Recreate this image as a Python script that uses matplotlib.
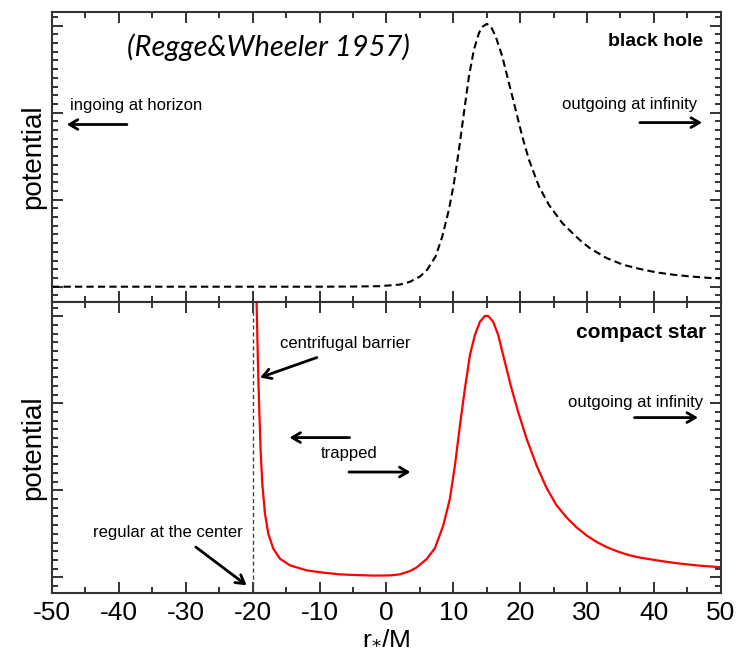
import matplotlib
matplotlib.use('Agg')
import matplotlib.pyplot as plt
from matplotlib.ticker import MultipleLocator, NullFormatter

# black hole (Regge-Wheeler) potential
bh_x = [-50, -40, -30, -20, -10, -5, -1, 2, 3.5, 5, 6.1, 7.36, 8.36, 9.35, 10.1,
        10.85, 11.59, 12.34, 13.09, 13.85, 14.35, 15.0, 15.6, 16.33, 17.32, 18.32,
        19.32, 20.31, 21.31, 22.8, 24.3, 26.3, 27.9, 29.1, 30.4, 32.9, 35.4, 37.9,
        40.4, 42.9, 45.4, 48.4, 50]
bh_v = [0, 0, 0, 0, 0, 0.0001, 0.0003, 0.0012, 0.0028, 0.0058, 0.0098, 0.0174,
        0.0289, 0.0443, 0.0596, 0.0788, 0.0999, 0.1209, 0.1363, 0.1459, 0.1493,
        0.1510, 0.1497, 0.1439, 0.1324, 0.1171, 0.1018, 0.0864, 0.073, 0.0577,
        0.0470, 0.0366, 0.0305, 0.0262, 0.0222, 0.0165, 0.0126, 0.0102, 0.0082,
        0.0069, 0.0059, 0.0050, 0.0048]

# compact star potential
cs_x = [-19.42, -19.31, -19.16, -19.01, -18.81, -18.56, -18.16, -17.66, -16.92,
        -15.92, -14.43, -11.93, -9.45, -6.95, -4.46, -1.97, 0.52, 2.0, 3.51, 4.5,
        6.02, 7.26, 8.51, 9.5, 10.25, 11.0, 11.74, 12.49, 13.23, 13.98, 14.73,
        15.22, 15.97, 16.72, 17.71, 18.71, 19.7, 20.95, 22.44, 23.93, 25.42, 26.92,
        28.4, 29.92, 31.4, 32.91, 34.6, 36.4, 38.1, 39.88, 41.9, 43.87, 46.86, 50]
cs_v = [0.1593, 0.1401, 0.1151, 0.096, 0.073, 0.0539, 0.0366, 0.0251, 0.0165,
        0.0107, 0.0069, 0.004, 0.0027, 0.0017, 0.0013, 0.001, 0.0011, 0.0017,
        0.0036, 0.0056, 0.0105, 0.0168, 0.0299, 0.0453, 0.0644, 0.0874, 0.1085,
        0.1277, 0.1392, 0.1468, 0.1502, 0.1502, 0.1468, 0.1392, 0.1238, 0.1085,
        0.095, 0.0798, 0.0644, 0.0515, 0.0415, 0.0345, 0.0288, 0.0241, 0.0204,
        0.0174, 0.0148, 0.0126, 0.0112, 0.0101, 0.0089, 0.0079, 0.0067, 0.0058]

sans = ['Liberation Sans', 'DejaVu Sans']
plt.rcParams['font.family'] = sans
plt.rcParams['axes.unicode_minus'] = False

fig, (ax1, ax2) = plt.subplots(2, 1, sharex=True, figsize=(7.37, 6.52), dpi=100)
fig.subplots_adjust(left=0.0706, right=0.978, top=0.982, bottom=0.0905, hspace=0)

ax1.plot(bh_x, bh_v, color='black', lw=1.5, dashes=(3.5, 2))
ax2.plot(cs_x, cs_v, color='red', lw=1.6)
ax2.axvline(-20, color='#444444', lw=1, dashes=(3, 2))

for ax in (ax1, ax2):
    ax.set_xlim(-50, 50)
    ax.set_ylim(-0.009, 0.158)
    ax.xaxis.set_major_locator(MultipleLocator(10))
    ax.xaxis.set_minor_locator(MultipleLocator(5))
    ax.yaxis.set_major_locator(MultipleLocator(0.05))
    ax.yaxis.set_minor_locator(MultipleLocator(0.005))
    ax.yaxis.set_major_formatter(NullFormatter())
    ax.tick_params(which='both', direction='in', top=True, right=True,
                   color='#333333', width=1.4)
    ax.tick_params(which='major', length=8)
    ax.tick_params(which='minor', length=4)
    for s in ax.spines.values():
        s.set_linewidth(1.5)
        s.set_color('#333333')
    ax.set_ylabel('potential', fontsize=20, labelpad=1)

ax1.tick_params(axis='x', labelbottom=False)
ax2.tick_params(axis='x', labelsize=19, pad=6)
ax2.set_xlabel(r'r$_\mathrm{*}$/M', fontsize=19, labelpad=0)

arrow = dict(arrowstyle='->,head_length=0.6,head_width=0.35', lw=2, color='black',
             shrinkA=0, shrinkB=0)

# top panel
ax1.text(-38.8, 0.1375, '(Regge&Wheeler 1957)', fontsize=21, style='italic',
         family=['Lato', 'DejaVu Sans'], va='center', ha='left')
ax1.text(47.3, 0.1409, 'black hole', fontsize=14, fontweight='bold', ha='right', va='center')
ax1.text(-47.3, 0.104, 'ingoing at horizon', fontsize=12, ha='left', va='center')
ax1.annotate('', xy=(-47.8, 0.0932), xytext=(-38.8, 0.0932), arrowprops=arrow)
ax1.text(26.2, 0.1047, 'outgoing at infinity', fontsize=12, ha='left', va='center')
ax1.annotate('', xy=(47.2, 0.0943), xytext=(37.9, 0.0943), arrowprops=arrow)

# bottom panel
ax2.text(47.9, 0.1409, 'compact star', fontsize=15, fontweight='bold', ha='right', va='center')
ax2.text(-15.9, 0.1346, 'centrifugal barrier', fontsize=12, ha='left', va='center')
ax2.annotate('', xy=(-18.9, 0.1148), xytext=(-10.4, 0.1263), arrowprops=arrow)
ax2.text(-9.8, 0.0713, 'trapped', fontsize=12, ha='left', va='center')
ax2.annotate('', xy=(-14.5, 0.0803), xytext=(-5.5, 0.0803), arrowprops=arrow)
ax2.annotate('', xy=(3.6, 0.0605), xytext=(-5.6, 0.0605), arrowprops=arrow)
ax2.text(27.1, 0.1006, 'outgoing at infinity', fontsize=12, ha='left', va='center')
ax2.annotate('', xy=(46.6, 0.0918), xytext=(37.1, 0.0918), arrowprops=arrow)
ax2.text(-43.9, 0.0259, 'regular at the center', fontsize=12, ha='left', va='center')
ax2.annotate('', xy=(-20.9, -0.0046), xytext=(-28.5, 0.0174), arrowprops=arrow)

fig.savefig('out.png', dpi=100)
